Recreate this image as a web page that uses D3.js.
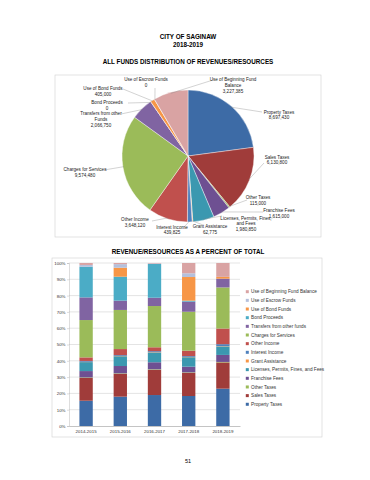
<!DOCTYPE html>
<html>
<head>
<meta charset="utf-8">
<script src="https://cdn.jsdelivr.net/npm/d3@7"></script>
<style>
  body { margin: 0; background: #fff; }
  svg { display: block; }
  text { font-family: "Liberation Sans", Arial, sans-serif; }
  .small { font-family: "Liberation Sans Narrow", "Arial Narrow", "Liberation Sans", sans-serif; }
</style>
</head>
<body>
<div id="page"></div>
<script>
// pie: 2018-2019 amounts, clockwise from 12 o'clock
const pieNames = ["Property Taxes", "Sales Taxes", "Other Taxes", "Franchise Fees",
  "Licenses, Permits, Fines, and Fees", "Grant Assistance", "Interest Income", "Other Income",
  "Charges for Services", "Transfers from other Funds", "Bond Proceeds", "Use of Bond Funds",
  "Use of Escrow Funds", "Use of Beginning Fund Balance"]
const pieValues = [8697430, 6130800, 115000, 1615000, 1980850, 62775, 439825, 3648120,
  9574480, 2066750, 0, 405000, 0, 3227385]

// bar chart: percent of total per year
const years = ["2014-2015", "2015-2016", "2016-2017", "2017-2018", "2018-2019"]
const propertyTaxes = [15.5, 18.0, 19.0, 18.4, 22.9]
const salesTaxes = [14.0, 14.0, 15.5, 14.2, 16.1]
const otherTaxes = [0.3, 0.3, 0.3, 0.3, 0.3]
const franchiseFees = [3.9, 4.5, 4.3, 3.5, 4.3]
const licensesFees = [5.5, 6.0, 6.0, 5.8, 5.2]
const grantAssistance = [0.2, 0.2, 0.2, 0.2, 0.2]
const interestIncome = [0.5, 0.5, 0.6, 0.5, 1.2]
const otherIncome = [2.2, 3.7, 2.4, 3.3, 9.6]
const chargesServices = [22.9, 24.0, 25.3, 23.9, 25.2]
const transfersFunds = [13.9, 5.7, 5.1, 6.2, 5.4]
const bondProceeds = [18.8, 14.7, 20.7, 0.6, 0]
const bondFunds = [0, 5.5, 0, 14.5, 1.1]
const escrowFunds = [1.1, 2.2, 0.3, 2.3, 0]
const beginningBalance = [1.2, 0.7, 0.3, 6.3, 8.5]

const legendNames = ["Property Taxes", "Sales Taxes", "Other Taxes", "Franchise Fees",
  "Licenses, Permits, Fines, and Fees", "Grant Assistance", "Interest Income", "Other Income",
  "Charges for Services", "Transfers from other funds", "Bond Proceeds", "Use of Bond Funds",
  "Use of Escrow Funds", "Use of Beginning Fund Balance"]
const barSeries = [propertyTaxes, salesTaxes, otherTaxes, franchiseFees, licensesFees,
  grantAssistance, interestIncome, otherIncome, chargesServices, transfersFunds,
  bondProceeds, bondFunds, escrowFunds, beginningBalance]

const colors = ["#3d6ba6", "#a03c3a", "#9bbb59", "#6e5092", "#3b98b0", "#f79646",
  "#4f81bd", "#c0504d", "#9bbb59", "#8064a2", "#4bacc6", "#f79646", "#b4c0dc", "#d9a3a3"]

const W = 370, H = 480
const svg = d3.select("#page").append("svg").attr("width", W).attr("height", H)

// titles
svg.append("text").attr("x", 188).attr("y", 38.5).attr("text-anchor", "middle")
  .attr("font-size", 6.3).attr("font-weight", "bold").text("CITY OF SAGINAW")
svg.append("text").attr("x", 188).attr("y", 46.5).attr("text-anchor", "middle")
  .attr("font-size", 6.3).attr("font-weight", "bold").text("2018-2019")
svg.append("text").attr("x", 188).attr("y", 63.5).attr("text-anchor", "middle")
  .attr("font-size", 6.3).attr("font-weight", "bold").text("ALL FUNDS DISTRIBUTION OF REVENUES/RESOURCES")
svg.append("text").attr("x", 188).attr("y", 253.5).attr("text-anchor", "middle")
  .attr("font-size", 6.3).attr("font-weight", "bold").text("REVENUE/RESOURCES AS A PERCENT OF TOTAL")
svg.append("text").attr("x", 188).attr("y", 463).attr("text-anchor", "middle")
  .attr("font-size", 5.5).text("51")

// ---- pie ----
svg.append("rect").attr("x", 55).attr("y", 75).attr("width", 266).attr("height", 162)
  .attr("fill", "none").attr("stroke", "#d0d0d0").attr("stroke-width", 0.6)

const cx = 188, cy = 156, R = 66
const pie = d3.pie().sort(null).value((d) => d)
const arcs = pie(pieValues)
const arc = d3.arc().innerRadius(0).outerRadius(R)
const gPie = svg.append("g").attr("transform", `translate(${cx},${cy})`)
gPie.selectAll("path").data(arcs).enter().append("path")
  .attr("d", arc).attr("fill", (d, i) => colors[i])
  .attr("stroke", "#fff").attr("stroke-width", 0.4)

// label placement: [text centre x, first line y, leader start x, leader start y]
const labelPos = [
  [279, 113.5, 262, 112], [277, 158.5, 264, 163], [258, 199, 247, 200], [279, 212, 263, 212],
  [246, 219.5, 222, 216], [210, 228, 203, 225], [172, 228.5, 184, 227], [135, 221, 152, 221],
  [85, 171, 104, 170], [101, 115, 121, 114], [107, 104, 128, 103], [103, 90, 123, 89],
  [146, 81, 155, 88], [233, 81, 213, 80]
]
const pieLines = [["Property Taxes"], ["Sales Taxes"], ["Other Taxes"], ["Franchise Fees"],
  ["Licenses, Permits, Fines,", "and Fees"], ["Grant Assistance"], ["Interest Income"], ["Other Income"],
  ["Charges for Services"], ["Transfers from other", "Funds"], ["Bond Proceeds"], ["Use of Bond Funds"],
  ["Use of Escrow Funds"], ["Use of Beginning Fund", "Balance"]]
const fmt = d3.format(",")

arcs.forEach((a, i) => {
  const mid = (a.startAngle + a.endAngle) / 2
  const ex = cx + Math.sin(mid) * (R - 1), ey = cy - Math.cos(mid) * (R - 1)
  const p = labelPos[i]
  svg.append("line").attr("x1", p[2]).attr("y1", p[3]).attr("x2", ex).attr("y2", ey)
    .attr("stroke", "#7f7f7f").attr("stroke-width", 0.35)
  const t = svg.append("text").attr("class", "small").attr("text-anchor", "middle")
    .attr("font-size", 4.6).attr("fill", "#222")
  pieLines[i].concat([fmt(pieValues[i])]).forEach((s, k) => {
    t.append("tspan").attr("x", p[0]).attr("y", p[1] + k * 5.8).text(s)
  })
})

// ---- stacked percent bars ----
svg.append("rect").attr("x", 52).attr("y", 258).attr("width", 270).attr("height", 179)
  .attr("fill", "none").attr("stroke", "#d0d0d0").attr("stroke-width", 0.6)

const rows = years.map((yr, j) => {
  const r = { year: yr }
  legendNames.forEach((n, i) => { r[n] = barSeries[i][j] })
  return r
})
const stack = d3.stack().keys(legendNames)
const layers = stack(rows)

const x = d3.scaleBand().domain(years).range([69, 240]).paddingInner(0.61).paddingOuter(0.305)
const y = d3.scaleLinear().domain([0, 100]).range([426, 263])

const gGrid = svg.append("g")
gGrid.selectAll("line").data(d3.range(10, 101, 10)).enter().append("line")
  .attr("x1", 69).attr("x2", 240).attr("y1", (d) => y(d)).attr("y2", (d) => y(d))
  .attr("stroke", "#c8c8c8").attr("stroke-width", 0.5)

const yAxis = svg.append("g").attr("transform", "translate(69,0)")
  .call(d3.axisLeft(y).tickValues(d3.range(0, 101, 10)).tickFormat((d) => d + "%").tickSize(2).tickPadding(1.5))
yAxis.selectAll("text").attr("class", "small").attr("font-size", 4.4).attr("fill", "#333")
yAxis.selectAll("line").attr("stroke", "#aaa").attr("stroke-width", 0.4)
yAxis.select(".domain").attr("stroke", "#aaa").attr("stroke-width", 0.4)

svg.append("g").selectAll("g").data(layers).enter().append("g")
  .attr("fill", (d, i) => colors[i])
  .selectAll("rect").data((d) => d).enter().append("rect")
  .attr("x", (d) => x(d.data.year)).attr("width", x.bandwidth())
  .attr("y", (d) => y(d[1])).attr("height", (d) => y(d[0]) - y(d[1]))

const xAxis = svg.append("g").attr("transform", "translate(0,426)")
  .call(d3.axisBottom(x).tickSize(0).tickPadding(3.5))
xAxis.selectAll("text").attr("class", "small").attr("font-size", 4.4).attr("fill", "#333")
xAxis.select(".domain").attr("stroke", "#888").attr("stroke-width", 0.5)

// legend, top entry is the last series
const legend = svg.append("g")
const order = d3.range(legendNames.length).reverse()
order.forEach((i, k) => {
  const ly = 291.7 + k * 8.66
  legend.append("rect").attr("x", 245.8).attr("y", ly - 1.5).attr("width", 3).attr("height", 3)
    .attr("fill", colors[i])
  legend.append("text").attr("class", "small").attr("x", 251).attr("y", ly + 1.6)
    .attr("font-size", 4.7).attr("fill", "#333").text(legendNames[i])
})
</script>
</body>
</html>
